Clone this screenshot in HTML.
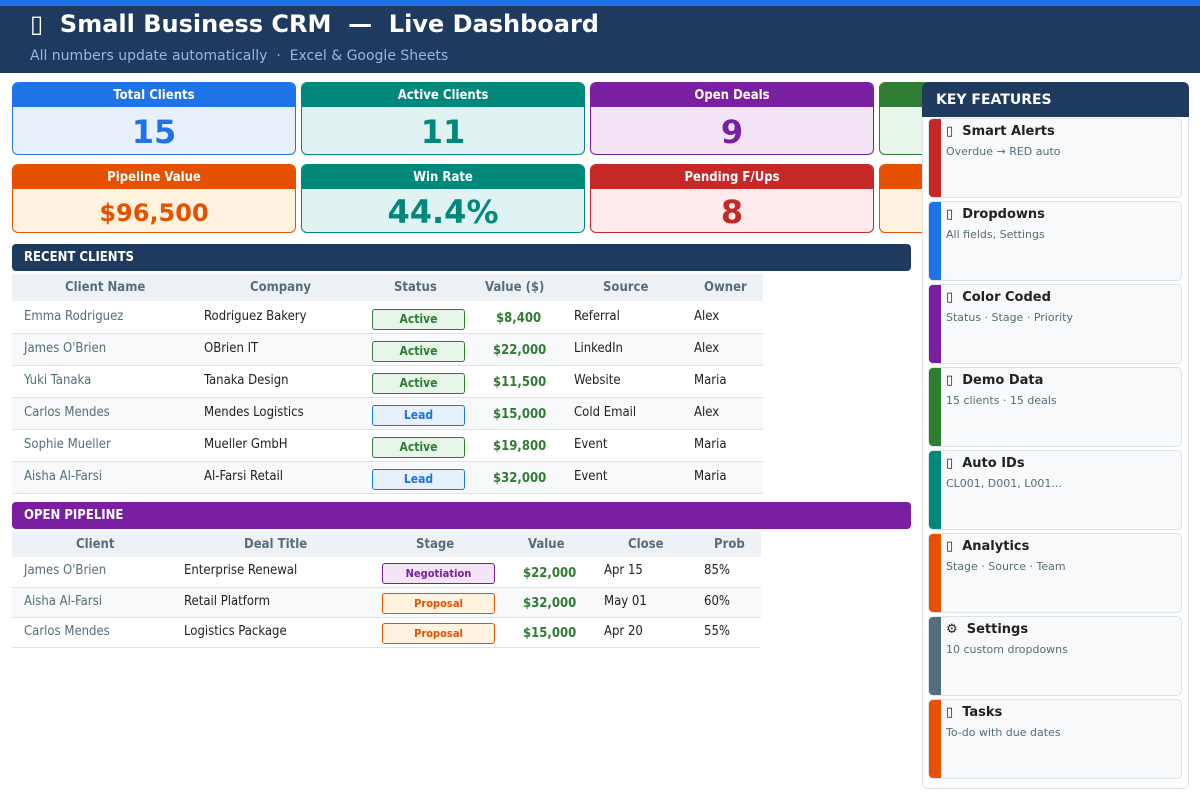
<!DOCTYPE html>
<html><head><meta charset="utf-8"><style>
*{margin:0;padding:0;box-sizing:border-box}
body{width:1200px;height:800px;background:#fff;position:relative;overflow:hidden;font-family:"DejaVu Sans","Liberation Sans",sans-serif}
.a{position:absolute}
.c{font-family:"DejaVu Sans Condensed","DejaVu Sans",sans-serif;font-stretch:condensed}
.kpi{position:absolute;width:284px;border:1px solid;border-radius:6px;overflow:hidden}
.kpi .h{height:24px;color:#fff;font-weight:bold;font-size:13px;text-align:center;line-height:25px}
.kpi .v{text-align:center;font-weight:bold}
.bar{position:absolute;left:12px;width:899px;height:27px;border-radius:4px;color:#fff;font-weight:bold;font-size:13px;line-height:27px;padding-left:12px}
.th{position:absolute;left:12px;background:#eef1f6;color:#546e7a;font-weight:bold;font-size:13px}
.row{position:absolute;left:12px;border-bottom:1px solid #dde3ea;font-size:13px;color:#222}
.row span,.th span{position:absolute;white-space:nowrap}
.badge{border:1px solid;border-radius:3px;text-align:center;font-weight:bold;font-size:12px}
.g{color:#2e7d32;font-weight:bold}
.n{color:#546e7a}
.feat{position:absolute;left:928px;width:254px;height:80px;background:#f7f9fb;border:1px solid #dde3ea;border-radius:5px;overflow:hidden}
.feat .s{position:absolute;left:0;top:0;bottom:0;width:12px}
.feat .t{position:absolute;left:17px;top:5px;font-weight:bold;font-size:13px;color:#222}
.feat .d{position:absolute;left:17px;top:26px;font-size:11px;color:#546e7a}
</style></head><body>
<div class="a" style="left:0;top:0;width:1200px;height:73px;background:#1f3a5f"></div>
<div class="a" style="left:0;top:0;width:1200px;height:6px;background:#1e73e8"></div>
<div class="a" style="left:30px;top:10px;color:#fff;font-weight:bold;font-size:24px;white-space:pre">▯  Small Business CRM  —  Live Dashboard</div>
<div class="a" style="left:30px;top:48px;color:#8fb8e8;font-size:14px;white-space:pre">All numbers update automatically  ·  Excel &amp; Google Sheets</div>

<div class="kpi" style="left:12px;top:82px;height:73px;border-color:#1e73e8;background:#e8f0fc"><div class="h c" style="background:#1e73e8">Total Clients</div><div class="v" style="color:#1e73e8;font-size:32px;line-height:50px">15</div></div>
<div class="kpi" style="left:301px;top:82px;height:73px;border-color:#00897b;background:#e0f2f1"><div class="h c" style="background:#00897b">Active Clients</div><div class="v" style="color:#00897b;font-size:32px;line-height:50px">11</div></div>
<div class="kpi" style="left:590px;top:82px;height:73px;border-color:#7b1fa2;background:#f3e5f5"><div class="h c" style="background:#7b1fa2">Open Deals</div><div class="v" style="color:#7b1fa2;font-size:32px;line-height:50px">9</div></div>
<div class="kpi" style="left:879px;top:82px;height:73px;border-color:#2e7d32;background:#e8f5e9"><div class="h c" style="background:#2e7d32"></div></div>
<div class="kpi" style="left:12px;top:164px;height:69px;border-color:#e65100;background:#fff3e0"><div class="h c" style="background:#e65100">Pipeline Value</div><div class="v" style="color:#e65100;font-size:24px;line-height:48px">$96,500</div></div>
<div class="kpi" style="left:301px;top:164px;height:69px;border-color:#00897b;background:#e0f2f1"><div class="h c" style="background:#00897b">Win Rate</div><div class="v" style="color:#00897b;font-size:32px;line-height:46px">44.4%</div></div>
<div class="kpi" style="left:590px;top:164px;height:69px;border-color:#c62828;background:#ffebee"><div class="h c" style="background:#c62828">Pending F/Ups</div><div class="v" style="color:#c62828;font-size:32px;line-height:46px">8</div></div>
<div class="kpi" style="left:879px;top:164px;height:69px;border-color:#e65100;background:#fff3e0"><div class="h c" style="background:#e65100"></div></div>

<div class="bar c" style="top:244px;background:#1f3a5f">RECENT CLIENTS</div>
<div class="th c" style="top:274px;width:751px;height:27px;line-height:27px">
<span style="left:53px">Client Name</span><span style="left:238px">Company</span><span style="left:382px">Status</span><span style="left:473px">Value ($)</span><span style="left:591px">Source</span><span style="left:692px">Owner</span></div>

<div class="c">
<div class="row" style="top:301px;width:751px;height:33px;background:#fff"><span class="n" style="left:12px;top:8px">Emma Rodriguez</span><span style="left:192px;top:8px">Rodriguez Bakery</span><span class="badge" style="left:360px;top:8px;width:93px;height:21px;line-height:19px;color:#2e7d32;border-color:#2e7d32;background:#e8f5e9">Active</span><span class="g" style="left:484px;top:10px">$8,400</span><span style="left:562px;top:8px">Referral</span><span style="left:682px;top:8px">Alex</span></div>
<div class="row" style="top:334px;width:751px;height:32px;background:#f7f9fb"><span class="n" style="left:12px;top:7px">James O'Brien</span><span style="left:192px;top:7px">OBrien IT</span><span class="badge" style="left:360px;top:7px;width:93px;height:21px;line-height:19px;color:#2e7d32;border-color:#2e7d32;background:#e8f5e9">Active</span><span class="g" style="left:481px;top:9px">$22,000</span><span style="left:562px;top:7px">LinkedIn</span><span style="left:682px;top:7px">Alex</span></div>
<div class="row" style="top:366px;width:751px;height:32px;background:#fff"><span class="n" style="left:12px;top:7px">Yuki Tanaka</span><span style="left:192px;top:7px">Tanaka Design</span><span class="badge" style="left:360px;top:7px;width:93px;height:21px;line-height:19px;color:#2e7d32;border-color:#2e7d32;background:#e8f5e9">Active</span><span class="g" style="left:481px;top:9px">$11,500</span><span style="left:562px;top:7px">Website</span><span style="left:682px;top:7px">Maria</span></div>
<div class="row" style="top:398px;width:751px;height:32px;background:#f7f9fb"><span class="n" style="left:12px;top:7px">Carlos Mendes</span><span style="left:192px;top:7px">Mendes Logistics</span><span class="badge" style="left:360px;top:7px;width:93px;height:21px;line-height:19px;color:#1e73e8;border-color:#1e73e8;background:#e8f0fc">Lead</span><span class="g" style="left:481px;top:9px">$15,000</span><span style="left:562px;top:7px">Cold Email</span><span style="left:682px;top:7px">Alex</span></div>
<div class="row" style="top:430px;width:751px;height:32px;background:#fff"><span class="n" style="left:12px;top:7px">Sophie Mueller</span><span style="left:192px;top:7px">Mueller GmbH</span><span class="badge" style="left:360px;top:7px;width:93px;height:21px;line-height:19px;color:#2e7d32;border-color:#2e7d32;background:#e8f5e9">Active</span><span class="g" style="left:481px;top:9px">$19,800</span><span style="left:562px;top:7px">Event</span><span style="left:682px;top:7px">Maria</span></div>
<div class="row" style="top:462px;width:751px;height:32px;background:#f7f9fb"><span class="n" style="left:12px;top:7px">Aisha Al-Farsi</span><span style="left:192px;top:7px">Al-Farsi Retail</span><span class="badge" style="left:360px;top:7px;width:93px;height:21px;line-height:19px;color:#1e73e8;border-color:#1e73e8;background:#e8f0fc">Lead</span><span class="g" style="left:481px;top:9px">$32,000</span><span style="left:562px;top:7px">Event</span><span style="left:682px;top:7px">Maria</span></div>
</div>

<div class="bar c" style="top:502px;background:#7b1fa2">OPEN PIPELINE</div>
<div class="th c" style="top:532px;width:749px;height:25px;line-height:25px">
<span style="left:64px">Client</span><span style="left:232px">Deal Title</span><span style="left:404px">Stage</span><span style="left:516px">Value</span><span style="left:616px">Close</span><span style="left:702px">Prob</span></div>
<div class="c">
<div class="row" style="top:557px;width:749px;height:31px;background:#fff"><span class="n" style="left:12px;top:6px">James O'Brien</span><span style="left:172px;top:6px">Enterprise Renewal</span><span class="badge" style="left:370px;top:6px;width:113px;height:21px;line-height:19px;font-size:11px;color:#7b1fa2;border-color:#7b1fa2;background:#f3e5f5">Negotiation</span><span class="g" style="left:511px;top:9px">$22,000</span><span style="left:592px;top:6px">Apr 15</span><span style="left:692px;top:6px">85%</span></div>
<div class="row" style="top:588px;width:749px;height:30px;background:#f7f9fb"><span class="n" style="left:12px;top:6px">Aisha Al-Farsi</span><span style="left:172px;top:6px">Retail Platform</span><span class="badge" style="left:370px;top:5px;width:113px;height:21px;line-height:19px;font-size:11px;color:#e65100;border-color:#e65100;background:#fff3e0">Proposal</span><span class="g" style="left:511px;top:8px">$32,000</span><span style="left:592px;top:6px">May 01</span><span style="left:692px;top:6px">60%</span></div>
<div class="row" style="top:618px;width:749px;height:30px;background:#fff"><span class="n" style="left:12px;top:6px">Carlos Mendes</span><span style="left:172px;top:6px">Logistics Package</span><span class="badge" style="left:370px;top:5px;width:113px;height:21px;line-height:19px;font-size:11px;color:#e65100;border-color:#e65100;background:#fff3e0">Proposal</span><span class="g" style="left:511px;top:8px">$15,000</span><span style="left:592px;top:6px">Apr 20</span><span style="left:692px;top:6px">55%</span></div>
</div>

<div class="a" style="left:922px;top:82px;width:267px;height:707px;border:1px solid #dde3ea;border-radius:6px;background:#fff"></div>
<div class="a" style="left:922px;top:82px;width:267px;height:35px;background:#1f3a5f;border-radius:6px 6px 0 0;color:#fff;font-weight:bold;font-size:14px;line-height:36px;padding-left:14px">KEY FEATURES</div>

<div class="feat" style="top:118px"><div class="s" style="background:#c62828"></div><div class="t">▯&nbsp; Smart Alerts</div><div class="d">Overdue → RED auto</div></div>
<div class="feat" style="top:201px"><div class="s" style="background:#1e73e8"></div><div class="t">▯&nbsp; Dropdowns</div><div class="d">All fields, Settings</div></div>
<div class="feat" style="top:284px"><div class="s" style="background:#7b1fa2"></div><div class="t">▯&nbsp; Color Coded</div><div class="d">Status · Stage · Priority</div></div>
<div class="feat" style="top:367px"><div class="s" style="background:#2e7d32"></div><div class="t">▯&nbsp; Demo Data</div><div class="d">15 clients · 15 deals</div></div>
<div class="feat" style="top:450px"><div class="s" style="background:#00897b"></div><div class="t">▯&nbsp; Auto IDs</div><div class="d">CL001, D001, L001...</div></div>
<div class="feat" style="top:533px"><div class="s" style="background:#e65100"></div><div class="t">▯&nbsp; Analytics</div><div class="d">Stage · Source · Team</div></div>
<div class="feat" style="top:616px"><div class="s" style="background:#546e7a"></div><div class="t">⚙&nbsp; Settings</div><div class="d">10 custom dropdowns</div></div>
<div class="feat" style="top:699px"><div class="s" style="background:#e65100"></div><div class="t">▯&nbsp; Tasks</div><div class="d">To-do with due dates</div></div>
</body></html>
